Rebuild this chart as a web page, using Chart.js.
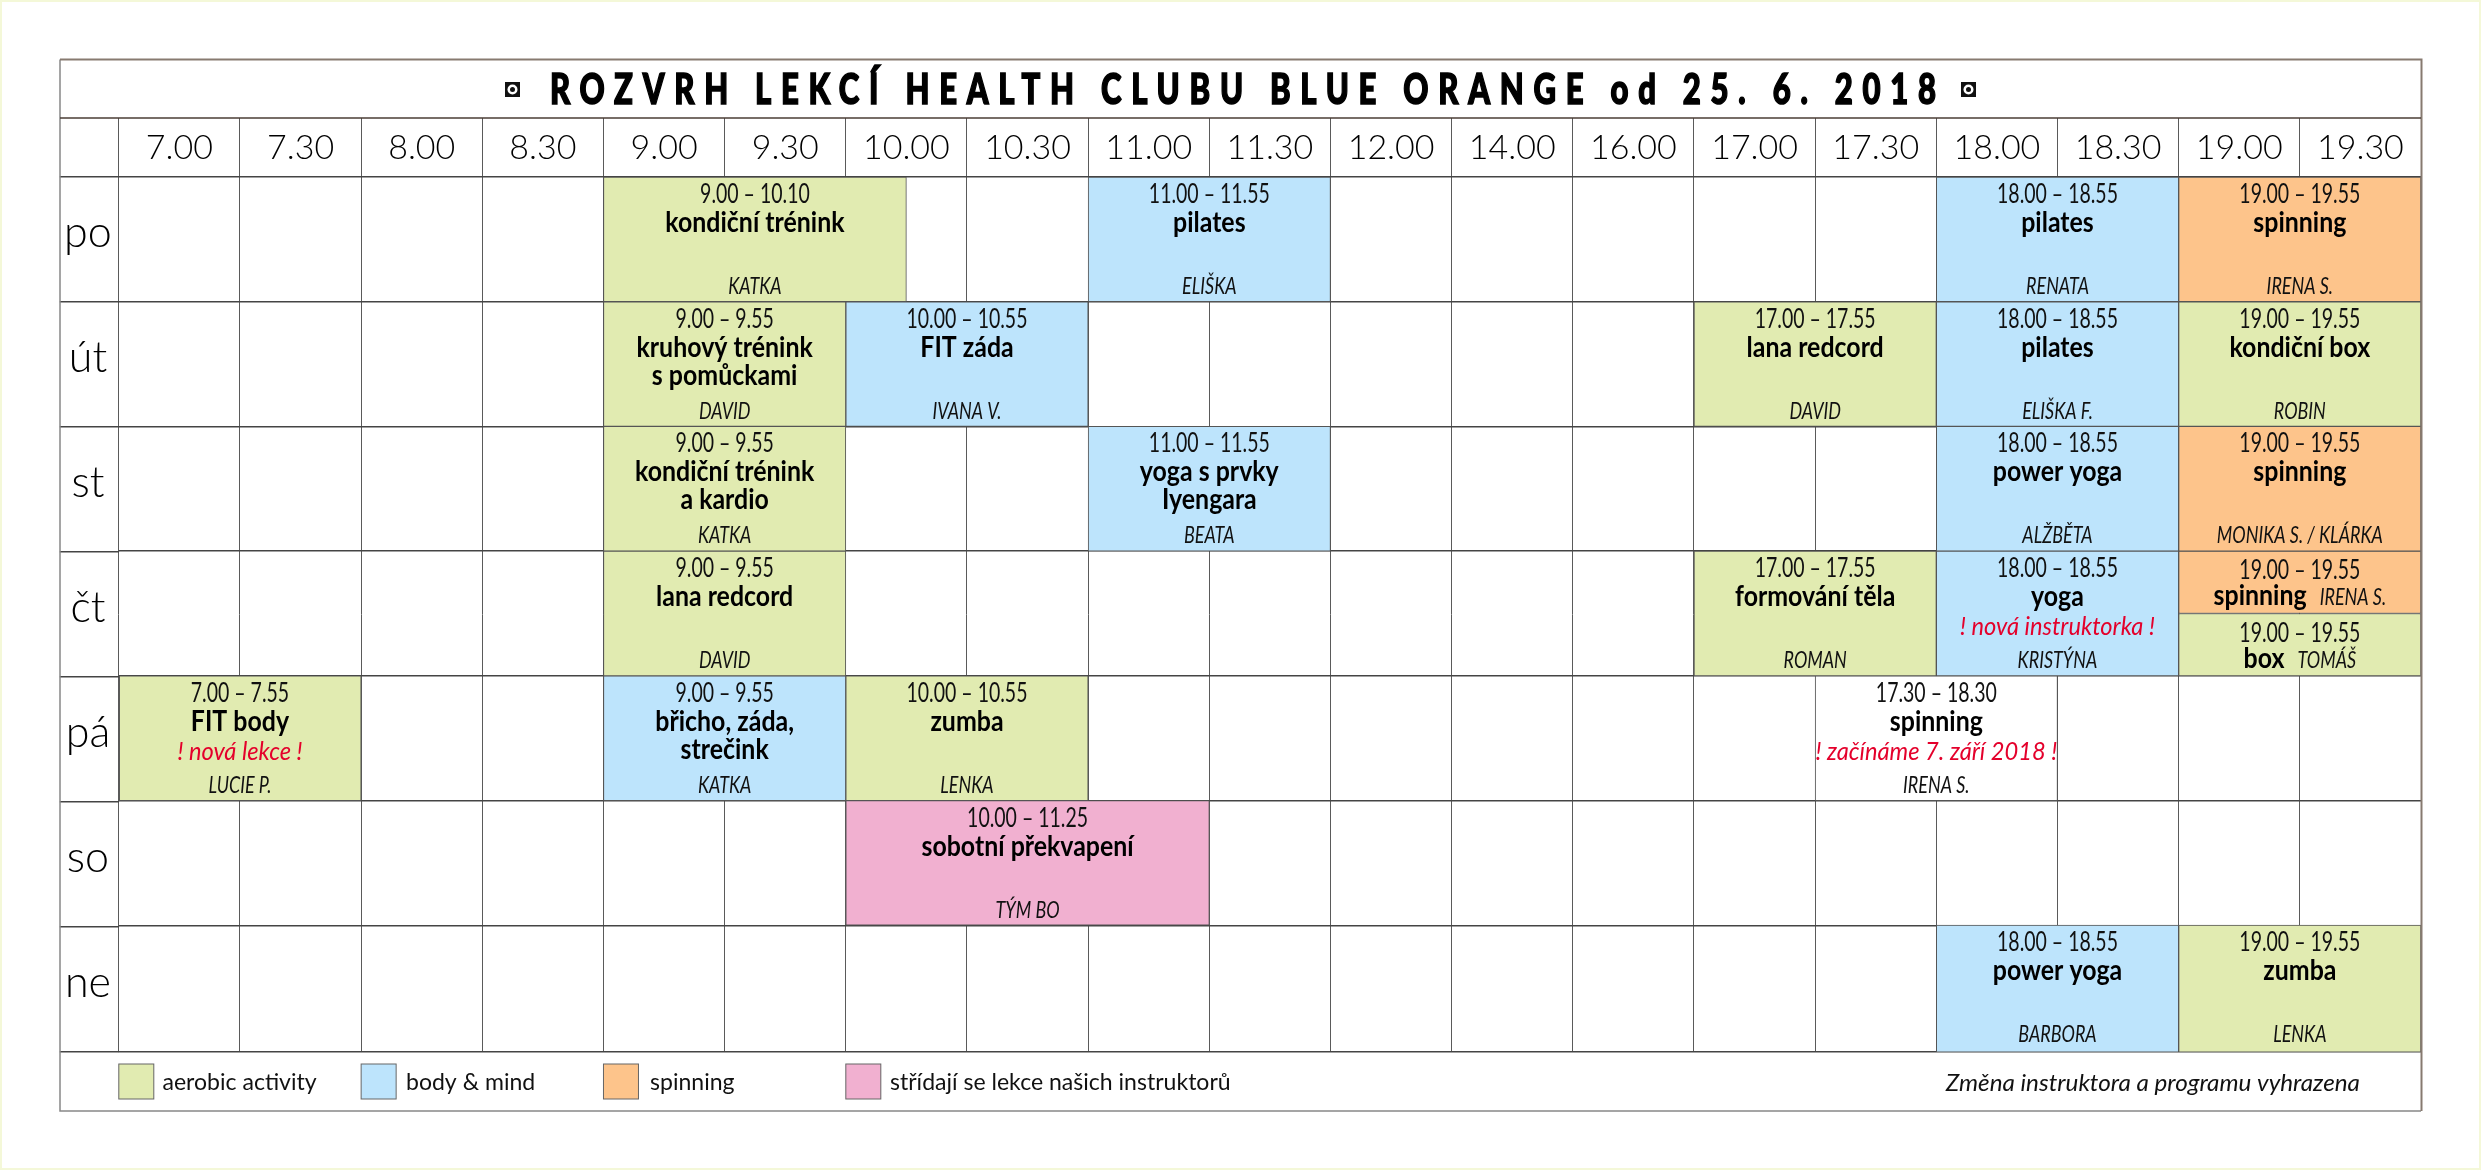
<!DOCTYPE html>
<html><head><meta charset="utf-8">
<style>html,body{margin:0;padding:0;background:#fff}#w{width:2481px;height:1170px;position:relative}canvas{display:block}</style>
<script src="https://cdn.jsdelivr.net/npm/chart.js@4"></script></head>
<body><div id="w"><canvas id="c"></canvas></div>
<script>
const titleText = 'ROZVRH LEKCÍ HEALTH CLUBU BLUE ORANGE od 25. 6. 2018';
const timeLabels = ['7.00','7.30','8.00','8.30','9.00','9.30','10.00','10.30','11.00','11.30','12.00','14.00','16.00','17.00','17.30','18.00','18.30','19.00','19.30'];
const dayLabels = ['po','út','st','čt','pá','so','ne'];
const typeNames = ['aerobic activity','body & mind','spinning','střídají se lekce našich instruktorů','nová lekce'];
const typeColors = ['#e1ebb1','#bde4fc','#fdc48b','#f1b0d0','#ffffff'];
const noteText = 'Změna instruktora a programu vyhrazena';

const lessonDay   = [0,0,0,0, 1,1,1,1,1, 2,2,2,2, 3,3,3,3.25,3.75, 4,4,4,4, 5, 6.008,6.008];
const lessonStart = [4,8,15,17, 4,6,13,15,17, 4,8,15,17, 4,13,15,17,17, 0,4,6,14, 6, 15,17];
const lessonEnd   = [6.5,10,17,19, 6,8,15,17,19, 6,10,17,19, 6,15,17,19,19, 2,6,8,16, 9, 17,19];
const lessonType  = [0,1,1,2, 0,1,0,1,0, 0,1,1,2, 0,0,1,2,0, 0,1,0,4, 3, 1,0];
const lessonTimes = ['9.00 – 10.10','11.00 – 11.55','18.00 – 18.55','19.00 – 19.55',
 '9.00 – 9.55','10.00 – 10.55','17.00 – 17.55','18.00 – 18.55','19.00 – 19.55',
 '9.00 – 9.55','11.00 – 11.55','18.00 – 18.55','19.00 – 19.55',
 '9.00 – 9.55','17.00 – 17.55','18.00 – 18.55','19.00 – 19.55','19.00 – 19.55',
 '7.00 – 7.55','9.00 – 9.55','10.00 – 10.55','17.30 – 18.30',
 '10.00 – 11.25','18.00 – 18.55','19.00 – 19.55'];
const lessonNames = [['kondiční trénink'],['pilates'],['pilates'],['spinning'],
 ['kruhový trénink','s pomůckami'],['FIT záda'],['lana redcord'],['pilates'],['kondiční box'],
 ['kondiční trénink','a kardio'],['yoga s prvky','Iyengara'],['power yoga'],['spinning'],
 ['lana redcord'],['formování těla'],['yoga'],['spinning'],['box'],
 ['FIT body'],['břicho, záda,','strečink'],['zumba'],['spinning'],
 ['sobotní překvapení'],['power yoga'],['zumba']];
const lessonTeachers = ['KATKA','ELIŠKA','RENATA','IRENA S.',
 'DAVID','IVANA V.','DAVID','ELIŠKA F.','ROBIN',
 'KATKA','BEATA','ALŽBĚTA','MONIKA S. / KLÁRKA',
 'DAVID','ROMAN','KRISTÝNA','IRENA S.','TOMÁŠ',
 'LUCIE P.','KATKA','LENKA','IRENA S.',
 'TÝM BO','BARBORA','LENKA'];
const lessonNotes = {15:'! nová instruktorka !',18:'! nová lekce !',21:'! začínáme 7. září 2018 !'};

const ROW_PX = 124.67, HALF_PX = 62.3, LAST_PX = 127;
const FONT = 'Lato';

function isSplit(i){ const f=lessonDay[i]%1; return f===0.25||f===0.75; }
function thicknessOf(i){ return isSplit(i) ? HALF_PX : (lessonDay[i]>6 ? LAST_PX : ROW_PX); }
const groups = {};
lessonDay.forEach((d,i)=>{
  const t = lessonType[i], k = t+'_'+thicknessOf(i);
  (groups[k] = groups[k] || {label:typeNames[t],type:'bar',data:[],backgroundColor:typeColors[t],
     borderColor:'#555',borderWidth:1,borderSkipped:false,barThickness:thicknessOf(i),grouped:false,xAxisID:'x',yAxisID:'y'})
   .data.push({x:[lessonStart[i],lessonEnd[i]],y:isSplit(i)?d:d+0.5});
});

function T(ctx,s,x,y,font,color,sx,align){
  ctx.save();ctx.font=font;ctx.fillStyle=color;ctx.textAlign=align||'center';ctx.textBaseline='alphabetic';
  ctx.translate(x,y);ctx.scale(sx||1,1);ctx.fillText(s,0,0);ctx.restore();
}
function W(ctx,s,font,sx){ctx.save();ctx.font=font;const w=ctx.measureText(s).width*(sx||1);ctx.restore();return w;}

const decor = {id:'decor',
  afterDatasetsDraw(ch){
    const c=ch.ctx,x=ch.scales.x,y=ch.scales.y,a=ch.chartArea;
    const F_T=`26px ${FONT}`,S_T=0.75,F_N=`bold 28px ${FONT}`,S_N=0.89,F_I=`italic 23px ${FONT}`,S_I=0.78,F_R=`italic 26px ${FONT}`,S_R=0.91;
    lessonDay.forEach((d,i)=>{
      const cx=(x.getPixelForValue(lessonStart[i])+x.getPixelForValue(lessonEnd[i]))/2;
      const top=y.getPixelForValue(Math.floor(d));
      if(isSplit(i)){
        const o=d%1===0.25?0:63;
        T(c,lessonTimes[i],cx,top+28+o,F_T,'#111',S_T);
        const n=lessonNames[i][0],t=lessonTeachers[i],wn=W(c,n,F_N,S_N),wt=W(c,t,F_I,S_I),gap=13;
        const l=cx-(wn+wt+gap)/2;
        T(c,n,l,top+54+o,F_N,'#000',S_N,'left');
        T(c,t,l+wn+gap,top+54+o,F_I,'#111',S_I,'left');
        return;
      }
      T(c,lessonTimes[i],cx,top+26,F_T,'#111',S_T);
      lessonNames[i].forEach((n,k)=>T(c,n,cx,top+55+k*28,F_N,'#000',S_N));
      if(lessonNotes[i])T(c,lessonNotes[i],cx,top+84,F_R,'#e4002b',S_R);
      T(c,lessonTeachers[i],cx,top+117,F_I,'#111',S_I);
    });
    // frame
    c.save();c.strokeStyle='#888';c.lineWidth=1.5;
    c.beginPath();c.moveTo(60,59.5);c.lineTo(60,1111);c.lineTo(a.right,1111);c.stroke();
    c.strokeStyle='#877a70';c.lineWidth=2;
    c.beginPath();c.moveTo(60,59.5);c.lineTo(a.right+.5,59.5);c.lineTo(a.right+.5,1111);c.stroke();
    c.strokeStyle='#4a3d35';c.lineWidth=1.5;
    c.beginPath();c.moveTo(60,118);c.lineTo(a.right,118);c.stroke();
    c.restore();
    // title
    c.save();
    const tf=`900 42px ${FONT}`,ts=0.74,tw=1386;
    c.font=tf;c.letterSpacing='0px';
    const natural=c.measureText(titleText).width;
    c.letterSpacing=((tw/ts-natural)/(titleText.length-1))+'px';
    c.fillStyle='#000';c.strokeStyle='#000';c.lineWidth=1.6;c.textAlign='left';c.translate(550,104);c.scale(ts,1);c.fillText(titleText,0,0);c.strokeText(titleText,0,0);c.restore();
    // bullets
    [505,1961].forEach(px=>{c.save();c.fillStyle='#111';c.fillRect(px,82,15,15);c.fillStyle='#fff';c.beginPath();c.arc(px+7.5,89.5,5,0,7);c.fill();c.fillStyle='#111';c.beginPath();c.arc(px+7.5,89.5,2.5,0,7);c.fill();c.restore();});
    // legend
    const lx=[0,2,4,6],tx=[162.5,406,650,890];
    lx.forEach((col,i)=>{
      const px=x.getPixelForValue(col);
      c.save();c.fillStyle=typeColors[i];c.fillRect(px,1064,35,35);c.strokeStyle='#666';c.lineWidth=1;c.strokeRect(px,1064,35,35);c.restore();
      T(c,typeNames[i],tx[i],1090,`24px ${FONT}`,'#111',0.96,'left');
    });
    T(c,noteText,2360,1091,`italic 24px ${FONT}`,'#111',1.01,'right');
    // edge
    c.save();c.strokeStyle='#f4f8d8';c.lineWidth=2;c.strokeRect(1,1,2479,1168);c.restore();
  }
};

new Chart(document.getElementById('c'),{
  type:'bar',
  data:{datasets:Object.values(groups)},
  plugins:[decor],
  options:{
    indexAxis:'y',responsive:true,maintainAspectRatio:false,animation:false,devicePixelRatio:1,
    layout:{padding:{left:60,top:118,right:60,bottom:118}},
    plugins:{legend:{display:false},tooltip:{enabled:false}},
    scales:{
      x:{type:'linear',position:'bottom',min:0,max:19,
         afterFit(s){s.height=0;},
         ticks:{display:false,stepSize:1},
         grid:{color:'#5a5a5a',lineWidth:1,drawTicks:false},border:{display:false}},
      xTop:{type:'category',position:'top',labels:timeLabels,offset:true,
         afterFit(s){s.height=59;},
         ticks:{font:{family:'Lato',size:34,weight:'300'},color:'#000',padding:-50,maxRotation:0,autoSkip:false},
         grid:{color:'#5a5a5a',lineWidth:1,drawOnChartArea:false,drawTicks:true,tickLength:59,offset:true},border:{display:false}},
      y:{type:'linear',position:'right',reverse:true,min:0,max:7.016,offset:false,
         afterFit(s){s.width=0;},
         afterBuildTicks(s){s.ticks=[0,1,2,3,4,5,6,7.016].map(v=>({value:v}));},
         ticks:{display:false},
         grid:{color:'#444',lineWidth:1.5,drawTicks:false,offset:false},border:{display:false}},
      yDays:{type:'category',position:'left',labels:dayLabels,offset:true,
         afterFit(s){s.width=58.8;},
         ticks:{font:{family:'Lato',size:43,weight:'300'},color:'#000',padding:-52,crossAlign:'center',autoSkip:false,labelOffset:-6},
         grid:{color:'#444',lineWidth:1.5,drawOnChartArea:false,drawTicks:true,tickLength:59,offset:true},border:{display:false}}
    }
  }
});
</script></body></html>
